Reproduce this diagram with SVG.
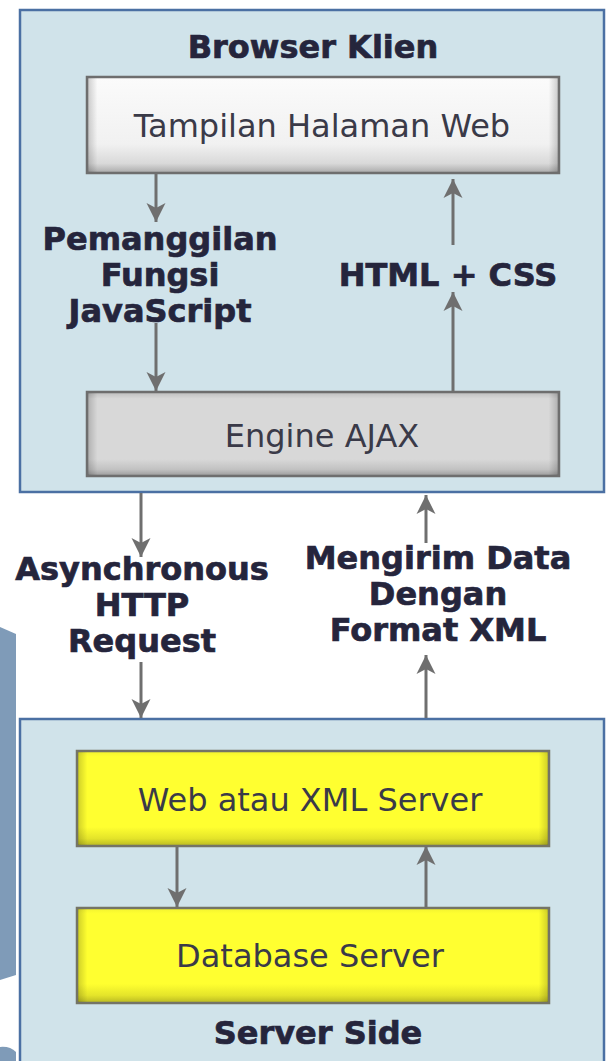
<svg xmlns="http://www.w3.org/2000/svg" width="607" height="1061" viewBox="0 0 607 1061">
  <style>
    .panel { fill: #d0e3ea; stroke: #4b70a3; stroke-width: 2.5; }
    .title { font-family: "DejaVu Sans", Verdana, sans-serif; font-weight: bold; font-size: 32px; fill: #25253c; stroke: #25253c; stroke-width: 0.7; text-anchor: middle; }
    .label { font-family: "DejaVu Sans", Verdana, sans-serif; font-weight: bold; font-size: 32px; fill: #25253c; stroke: #25253c; stroke-width: 0.7; text-anchor: middle; }
    .boxtext { font-family: "DejaVu Sans", Verdana, sans-serif; font-size: 32px; fill: #3a3a48; text-anchor: middle; }
    .wire { stroke: #6f6f6f; stroke-width: 3; fill: none; marker-end: url(#head); }
  </style>
  <defs>
    <marker id="head" markerUnits="userSpaceOnUse" markerWidth="20" markerHeight="20" viewBox="0 0 20 20" refX="19" refY="10" orient="auto">
      <path d="M0,0.5 L19,10 L0,19.5 L5,10 z" fill="#6f6f6f"/>
    </marker>
    <linearGradient id="gWhite" x1="0" y1="0" x2="0" y2="1">
      <stop offset="0" stop-color="#fbfbfb"/>
      <stop offset="0.7" stop-color="#f1f1f1"/>
      <stop offset="0.9" stop-color="#d9d9d9"/>
      <stop offset="1" stop-color="#a9a9a9"/>
    </linearGradient>
    <linearGradient id="gGray" x1="0" y1="0" x2="0" y2="1">
      <stop offset="0" stop-color="#bdbdbd"/>
      <stop offset="0.08" stop-color="#d8d8d8"/>
      <stop offset="0.8" stop-color="#d8d8d8"/>
      <stop offset="0.92" stop-color="#c2c2c2"/>
      <stop offset="1" stop-color="#9a9a9a"/>
    </linearGradient>
    <linearGradient id="gYellow" x1="0" y1="0" x2="0" y2="1">
      <stop offset="0" stop-color="#f2f230"/>
      <stop offset="0.06" stop-color="#ffff30"/>
      <stop offset="0.8" stop-color="#ffff30"/>
      <stop offset="0.92" stop-color="#e4e42a"/>
      <stop offset="1" stop-color="#b8b822"/>
    </linearGradient>
    <linearGradient id="gSide" x1="0" y1="0" x2="1" y2="0">
      <stop offset="0" stop-color="#000" stop-opacity="0.18"/>
      <stop offset="0.02" stop-color="#000" stop-opacity="0"/>
      <stop offset="0.98" stop-color="#000" stop-opacity="0"/>
      <stop offset="1" stop-color="#000" stop-opacity="0.18"/>
    </linearGradient>
  </defs>

  <!-- page edge decoration on the left -->
  <g id="side-strip">
    <path d="M0,627 L16,634 L16,975 L0,980 z" fill="#7f9bb8"/>
    <path d="M0,1047 Q10,1046 16,1052 L16,1061 L0,1061 z" fill="#7f9bb8"/>
  </g>

  <!-- client side container -->
  <g id="browser-klien">
    <rect class="panel" x="20" y="10" width="584" height="482"/>
    <text class="title" x="313" y="58">Browser Klien</text>
  </g>

  <g id="tampilan-halaman-web">
    <rect x="87" y="77" width="472" height="96" fill="url(#gWhite)" stroke="#6e6e6e" stroke-width="2.5"/>
    <rect x="88" y="78" width="470" height="94" fill="url(#gSide)"/>
    <text class="boxtext" x="322" y="137">Tampilan Halaman Web</text>
  </g>

  <g id="engine-ajax">
    <rect x="87" y="392" width="472" height="84" fill="url(#gGray)" stroke="#6e6e6e" stroke-width="2.5"/>
    <rect x="88" y="393" width="470" height="82" fill="url(#gSide)"/>
    <text class="boxtext" x="322" y="447">Engine AJAX</text>
  </g>

  <!-- server side container -->
  <g id="server-side">
    <rect class="panel" x="20" y="719" width="584" height="360"/>
    <text class="title" x="318" y="1044">Server Side</text>
  </g>

  <g id="web-xml-server">
    <rect x="77" y="751" width="472" height="95" fill="url(#gYellow)" stroke="#747466" stroke-width="2.5"/>
    <rect x="78" y="752" width="470" height="93" fill="url(#gSide)"/>
    <text class="boxtext" x="310" y="811">Web atau XML Server</text>
  </g>

  <g id="database-server">
    <rect x="77" y="908" width="472" height="95" fill="url(#gYellow)" stroke="#747466" stroke-width="2.5"/>
    <rect x="78" y="909" width="470" height="93" fill="url(#gSide)"/>
    <text class="boxtext" x="310" y="967">Database Server</text>
  </g>

  <!-- arrows -->
  <g id="connectors">
    <line class="wire" x1="156" y1="174" x2="156" y2="222"/>
    <line class="wire" x1="156" y1="323" x2="156" y2="391"/>
    <line class="wire" x1="453" y1="245" x2="453" y2="179"/>
    <line class="wire" x1="453" y1="391" x2="453" y2="292"/>
    <line class="wire" x1="141" y1="493" x2="141" y2="557"/>
    <line class="wire" x1="141" y1="662" x2="141" y2="718"/>
    <line class="wire" x1="426" y1="543" x2="426" y2="495"/>
    <line class="wire" x1="426" y1="718" x2="426" y2="655"/>
    <line class="wire" x1="177" y1="847" x2="177" y2="907"/>
    <line class="wire" x1="426" y1="907" x2="426" y2="846"/>
  </g>

  <!-- connector labels -->
  <g id="label-pemanggilan">
    <text class="label" x="160" y="250">Pemanggilan</text>
    <text class="label" x="160" y="286">Fungsi</text>
    <text class="label" x="160" y="322">JavaScript</text>
  </g>
  <g id="label-html-css">
    <text class="label" x="448" y="286">HTML + CSS</text>
  </g>
  <g id="label-async">
    <text class="label" x="142" y="580">Asynchronous</text>
    <text class="label" x="142" y="616">HTTP</text>
    <text class="label" x="142" y="652">Request</text>
  </g>
  <g id="label-xml">
    <text class="label" x="438" y="569">Mengirim Data</text>
    <text class="label" x="438" y="605">Dengan</text>
    <text class="label" x="438" y="641">Format XML</text>
  </g>
</svg>
